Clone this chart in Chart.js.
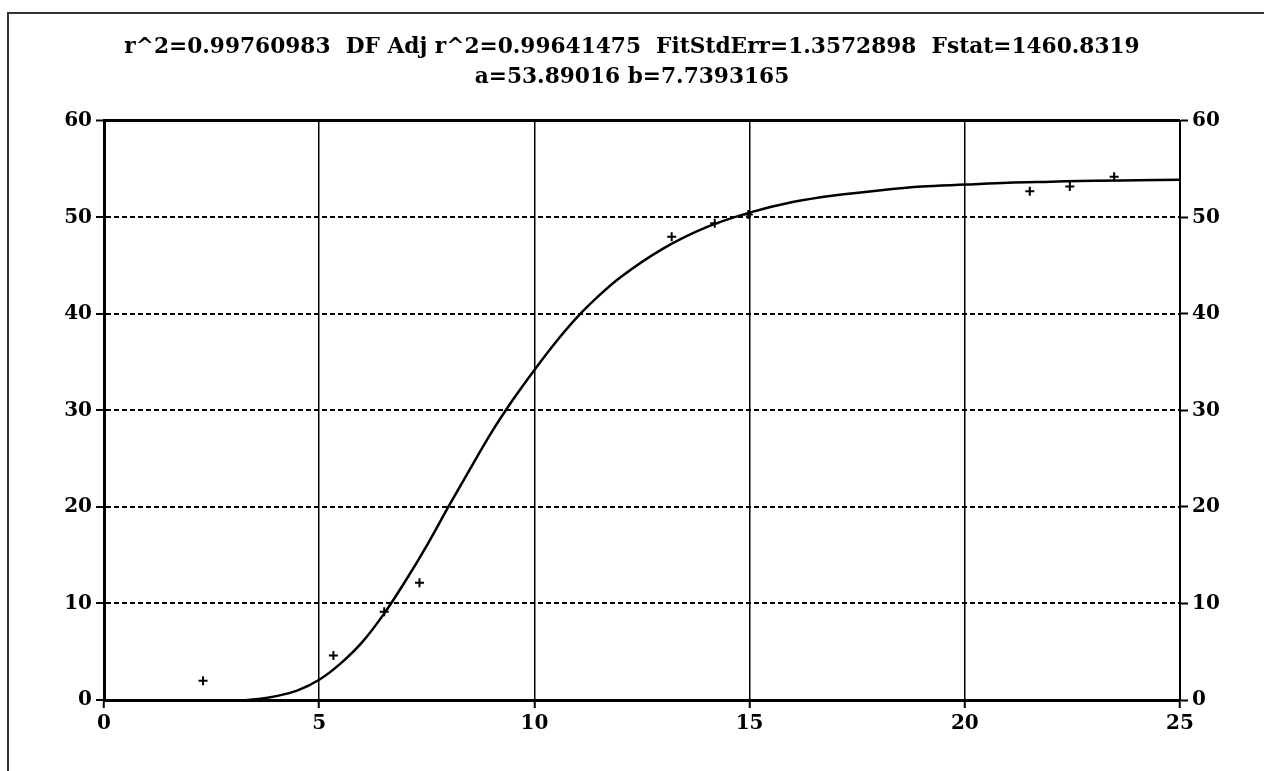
<!DOCTYPE html>
<html>
<head>
<meta charset="utf-8">
<script src="https://cdn.jsdelivr.net/npm/chart.js@4.4.1/dist/chart.umd.min.js"></script>
<style>
    html, body { margin: 0; padding: 0; background: #fff; overflow: hidden; }
    #frame {
        position: absolute; left: 7px; top: 12px; width: 1400px; height: 900px;
        border-left: 2px solid #333; border-top: 2px solid #333;
    }
    #fitChart { position: absolute; left: 0; top: 0; }
</style>
</head>
<body>
<div id="frame"></div>
<canvas id="fitChart" width="1264" height="771"></canvas>
<script>
// measured points (+ markers)
var pointX = [2.3, 5.33, 6.51, 7.33, 13.19, 14.19, 14.97, 21.51, 22.44, 23.47];
var pointY = [2.0, 4.6, 9.15, 12.15, 48.0, 49.4, 50.3, 52.7, 53.2, 54.2];

// fitted curve
var curveX = [3.3, 3.6, 4, 4.5, 5, 5.5, 6, 6.5, 7, 7.5, 8, 8.5, 9, 9.5, 10, 10.5, 11, 11.5, 12,
    13, 14, 15, 16, 17, 18, 19, 20, 21, 22, 23, 24, 25];
var curveY = [0, 0.1, 0.4, 1.0, 2.1, 3.8, 6.0, 8.9, 12.3, 16.0, 20.0, 23.9, 27.7, 31.1, 34.2, 37.1, 39.7, 41.9, 43.8,
    46.8, 49.0, 50.5, 51.6, 52.3, 52.8, 53.2, 53.4, 53.6, 53.7, 53.8, 53.85, 53.9];

var xTicks = [0, 5, 10, 15, 20, 25];
var yTicks = [0, 10, 20, 30, 40, 50, 60];

var titleLines = [
    'r^2=0.99760983  DF Adj r^2=0.99641475  FitStdErr=1.3572898  Fstat=1460.8319',
    'a=53.89016 b=7.7393165'
];

function toXY(xs, ys) {
    return xs.map(function (x, i) { return { x: x, y: ys[i] }; });
}

var serif = '"DejaVu Serif", "Liberation Serif", serif';
var tickFont = { family: serif, size: 20, weight: 'bold' };

new Chart(document.getElementById('fitChart').getContext('2d'), {
    type: 'scatter',
    data: {
        datasets: [
            {
                data: toXY(curveX, curveY),
                showLine: true,
                borderColor: '#000',
                borderWidth: 2.5,
                pointRadius: 0,
                cubicInterpolationMode: 'monotone',
                order: 2
            },
            {
                data: toXY(pointX, pointY),
                pointStyle: 'cross',
                pointRadius: 4.5,
                borderColor: '#000',
                borderWidth: 2,
                order: 1
            }
        ]
    },
    options: {
        responsive: false,
        animation: false,
        layout: { padding: 0 },
        plugins: {
            legend: { display: false },
            tooltip: { enabled: false },
            title: {
                display: true,
                text: titleLines,
                color: '#000',
                font: { family: serif, size: 21.7, weight: 'bold', lineHeight: 1.38 },
                padding: { top: 32, bottom: 29 }
            }
        },
        scales: {
            x: {
                type: 'linear',
                min: 0,
                max: 25,
                afterBuildTicks: function (scale) {
                    scale.ticks = xTicks.map(function (v) { return { value: v }; });
                },
                afterFit: function (scale) { scale.height = 71; },
                ticks: { color: '#000', font: tickFont, padding: 4, maxRotation: 0 },
                grid: {
                    color: function (ctx) {
                        var v = ctx.tick ? ctx.tick.value : null;
                        return (v === 0 || v === 25) ? 'rgba(0,0,0,0)' : '#000';
                    },
                    lineWidth: 1.5,
                    tickLength: 8,
                    tickColor: '#000',
                    tickWidth: 2
                },
                border: { display: true, color: '#000', width: 3 }
            },
            y: {
                type: 'linear',
                position: 'left',
                min: 0,
                max: 60,
                afterBuildTicks: function (scale) {
                    scale.ticks = yTicks.map(function (v) { return { value: v }; });
                },
                afterFit: function (scale) { scale.width = 104; },
                ticks: { color: '#000', font: tickFont, padding: 4 },
                grid: {
                    color: function (ctx) {
                        var v = ctx.tick ? ctx.tick.value : null;
                        return v === 0 ? 'rgba(0,0,0,0)' : '#000';
                    },
                    lineWidth: function (ctx) {
                        return ctx.tick && ctx.tick.value === 60 ? 3 : 2;
                    },
                    tickLength: 8,
                    tickColor: '#000',
                    tickWidth: 2
                },
                border: {
                    display: true,
                    color: '#000',
                    width: 3,
                    dash: function (ctx) {
                        return ctx.tick && ctx.tick.value === 60 ? [] : [5, 3];
                    }
                }
            },
            y2: {
                type: 'linear',
                position: 'right',
                min: 0,
                max: 60,
                afterBuildTicks: function (scale) {
                    scale.ticks = yTicks.map(function (v) { return { value: v }; });
                },
                afterFit: function (scale) { scale.width = 84; },
                ticks: { color: '#000', font: tickFont, padding: 4 },
                grid: {
                    drawOnChartArea: false,
                    tickLength: 8,
                    tickColor: '#000',
                    tickWidth: 2
                },
                border: { display: true, color: '#000', width: 2 }
            }
        }
    }
});
</script>
</body>
</html>
